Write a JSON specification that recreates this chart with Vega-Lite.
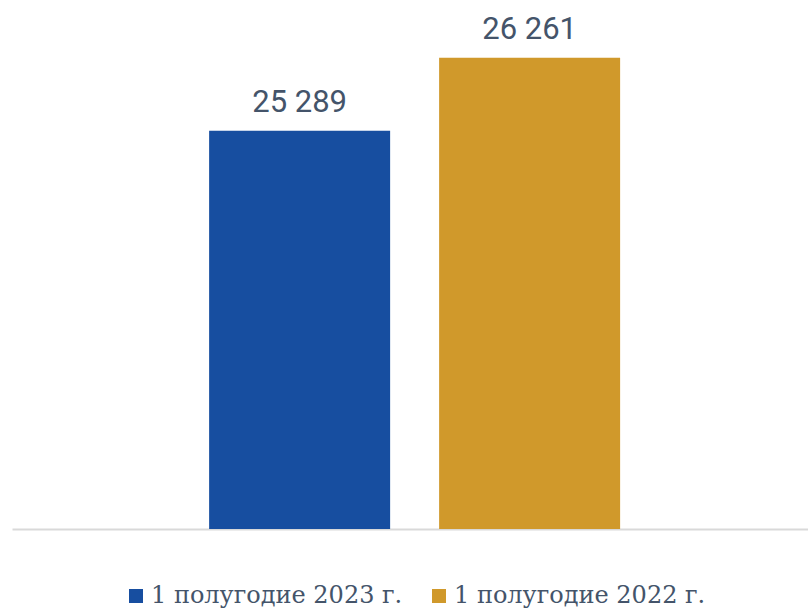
{
  "$schema": "https://vega.github.io/schema/vega-lite/v6.json",
  "width": 796,
  "height": 527,
  "padding": {"left": 12, "top": 2, "right": 0, "bottom": 79},
  "autosize": {"type": "none"},
  "background": "white",
  "config": {
    "view": {"stroke": null},
    "locale": {"number": {"decimal": ",", "thousands": " ", "grouping": [3], "currency": ["", " ₽"]}}
  },
  "data": {
    "values": [
      {"series": "1 полугодие 2023 г.", "value": 25289},
      {"series": "1 полугодие 2022 г.", "value": 26261}
    ]
  },
  "encoding": {
    "x": {
      "field": "series", "type": "nominal", "sort": null,
      "scale": {"paddingInner": 0.213, "paddingOuter": 0.837, "align": 0.512},
      "axis": {"title": null, "labels": false, "ticks": false, "grid": false, "domainColor": "#D9D9D9", "domainWidth": 2}
    },
    "y": {
      "field": "value", "type": "quantitative",
      "scale": {"domain": [20000, 27000], "zero": false, "nice": false},
      "axis": null
    }
  },
  "layer": [
    {
      "mark": {"type": "bar", "clip": true},
      "encoding": {
        "color": {
          "field": "series", "type": "nominal", "sort": null,
          "scale": {"range": ["#174EA0", "#D0992B"]},
          "legend": {
            "title": null, "orient": "none", "direction": "horizontal",
            "legendX": 112, "legendY": 582, "padding": 0,
            "symbolType": "square", "symbolSize": 196, "symbolStrokeWidth": 0,
            "labelFont": "DejaVu Serif", "labelFontSize": 24, "labelColor": "#44546A",
            "labelOffset": 3, "columnPadding": 24, "labelLimit": 400
          }
        }
      }
    },
    {
      "mark": {"type": "text", "dy": -19, "baseline": "alphabetic", "font": "Roboto", "fontSize": 31, "color": "#44546A"},
      "encoding": {"text": {"field": "value", "type": "quantitative", "format": ",d"}}
    }
  ]
}
